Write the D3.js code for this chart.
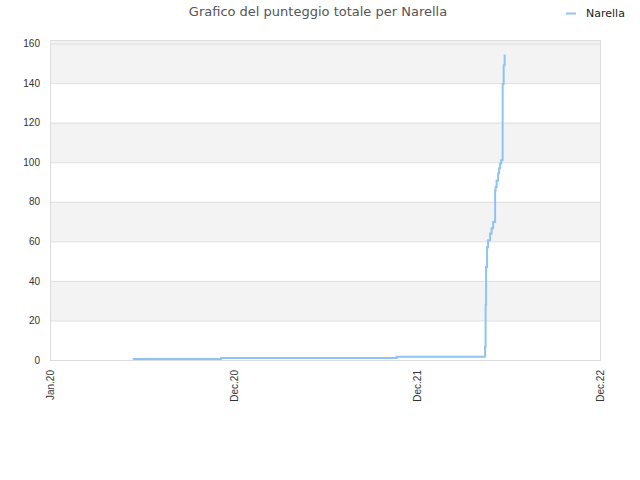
<!DOCTYPE html>
<html>
<head>
<meta charset="utf-8">
<script src="https://cdn.jsdelivr.net/npm/d3@7"></script>
<style>
  body { margin: 0; background: #fff; }
  svg { font-family: "DejaVu Sans", sans-serif; }
</style>
</head>
<body>
<div id="chart"></div>
<script>
// data
var dates = ["2020-05-14", "2020-11-06", "2021-10-22", "2022-04-16", "2022-04-17",
  "2022-04-18", "2022-04-20", "2022-04-22", "2022-04-26", "2022-04-29", "2022-05-02",
  "2022-05-06", "2022-05-07", "2022-05-09", "2022-05-12", "2022-05-14", "2022-05-16",
  "2022-05-18", "2022-05-21", "2022-05-23", "2022-05-25", "2022-05-27"];
var scores = [0.5, 1, 1.7, 6.7, 27.8, 47, 57, 60.6, 64, 66.6, 69.8,
  85.8, 87.5, 90.8, 94.4, 97, 99.4, 101, 139.6, 149, 154, 154];
var tickDates = ["2019-12-01", "2020-12-01", "2021-12-01", "2022-12-01"];
var tickLabels = ["Jan.20", "Dec.20", "Dec.21", "Dec.22"];
var yTicks = [0, 20, 40, 60, 80, 100, 120, 140, 160];
var seriesName = "Narella";
var title = "Grafico del punteggio totale per Narella";

const margin = {top: 40, right: 40, bottom: 120, left: 50},
    width = 640 - margin.left - margin.right,
    height = 480 - margin.top - margin.bottom;

const parse = d3.timeParse("%Y-%m-%d");
const data = dates.map(function(d, i) { return {date: parse(d), value: scores[i]}; });

const root = d3.select("#chart")
  .append("svg")
    .attr("width", 640)
    .attr("height", 480);

const svg = root.append("g")
    .attr("transform", `translate(${margin.left},${margin.top})`);

const x = d3.scaleTime()
  .domain([parse(tickDates[0]), parse(tickDates[tickDates.length - 1])])
  .range([0, width]);

const y = d3.scaleLinear()
  .domain([0, 161.8])
  .range([height, 0]);

// alternating bands
const bands = [[20, 40], [60, 80], [100, 120], [140, 161.8]];
svg.selectAll(".band")
  .data(bands)
  .enter().append("rect")
    .attr("x", 0)
    .attr("width", width)
    .attr("y", function(d) { return y(d[1]); })
    .attr("height", function(d) { return y(d[0]) - y(d[1]); })
    .attr("fill", "#f3f3f3");

// grid lines
svg.append("g")
  .call(d3.axisLeft(y).tickValues(yTicks).tickSize(-width).tickFormat(""))
  .call(g => g.select(".domain").remove())
  .call(g => g.selectAll("line").attr("stroke", "#dedede"));

// frame
svg.append("rect")
  .attr("x", 0.5).attr("y", 0.5)
  .attr("width", width).attr("height", height)
  .attr("fill", "none")
  .attr("stroke", "#dcdcdc");

// y labels
svg.append("g")
  .call(d3.axisLeft(y).tickValues(yTicks).tickSize(0).tickPadding(10))
  .call(g => g.select(".domain").remove())
  .call(g => g.selectAll("text").attr("fill", "#333").attr("font-size", 10));

// x labels
svg.append("g")
  .attr("transform", `translate(0, ${height})`)
  .call(d3.axisBottom(x)
    .tickValues(tickDates.map(parse))
    .tickSize(0)
    .tickFormat(function(d, i) { return tickLabels[i]; }))
  .call(g => g.select(".domain").remove())
  .call(g => g.selectAll("text")
    .attr("fill", "#333")
    .attr("font-size", 10)
    .attr("text-anchor", "end")
    .attr("dy", "0.35em")
    .attr("transform", "translate(0,10) rotate(-90)")
    .attr("x", 0)
    .attr("y", 0));

// the line
svg.append("path")
  .datum(data)
  .attr("fill", "none")
  .attr("stroke", "#90c3f3")
  .attr("stroke-width", 2)
  .attr("d", d3.line()
    .curve(d3.curveStepAfter)
    .x(function(d) { return x(d.date); })
    .y(function(d) { return y(d.value); }));

// title
root.append("text")
  .attr("x", 318)
  .attr("y", 16)
  .attr("text-anchor", "middle")
  .attr("fill", "#555")
  .attr("font-size", 13)
  .text(title);

// legend
root.append("line")
  .attr("x1", 566).attr("x2", 576)
  .attr("y1", 13.5).attr("y2", 13.5)
  .attr("stroke", "#90c3f3")
  .attr("stroke-width", 2);
root.append("text")
  .attr("x", 586)
  .attr("y", 17)
  .attr("fill", "#222")
  .attr("font-size", 11)
  .text(seriesName);
</script>
</body>
</html>
